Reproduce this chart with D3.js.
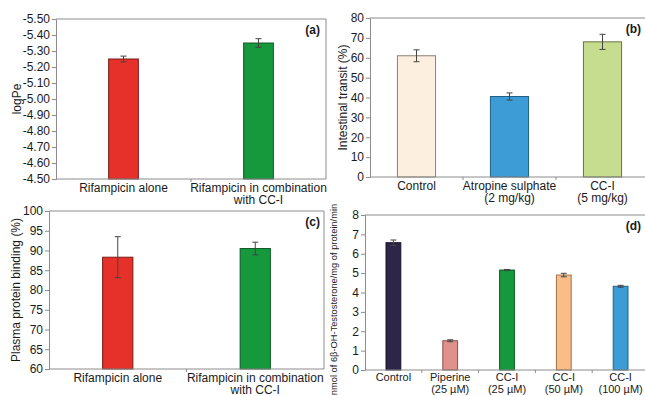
<!DOCTYPE html>
<html><head><meta charset="utf-8">
<script src="https://cdn.jsdelivr.net/npm/d3@7"></script>
<style>
body{margin:0;background:#fff;}
text{font-family:"Liberation Sans",Arial,sans-serif;fill:#1a1a1a;}
</style></head><body>
<svg id="chart" width="645" height="396"></svg>
<script>
// Panel (a) – permeability
const aCategories = ["Rifampicin alone", "Rifampicin in combination\nwith CC-I"];
const aValues = [-5.25, -5.35];
const aErrors = [0.018, 0.027];
const aTicks = [-5.5, -5.4, -5.3, -5.2, -5.1, -5.0, -4.9, -4.8, -4.7, -4.6, -4.5];

// Panel (b) – intestinal transit
const bCategories = ["Control", "Atropine sulphate\n(2 mg/kg)", "CC-I\n(5 mg/kg)"];
const bValues = [61.0, 40.5, 68.0];
const bErrors = [3.0, 1.8, 3.8];
const bTicks = [0, 10, 20, 30, 40, 50, 60, 70, 80];

// Panel (c) – plasma protein binding
const cCategories = ["Rifampicin alone", "Rifampicin in combination\nwith CC-I"];
const cValues = [88.3, 90.5];
const cErrors = [5.2, 1.6];
const cTicks = [60, 65, 70, 75, 80, 85, 90, 95, 100];

// Panel (d) – CYP3A4 activity
const dCategories = ["Control", "Piperine\n(25 µM)", "CC-I\n(25 µM)", "CC-I\n(50 µM)", "CC-I\n(100 µM)"];
const dValues = [6.57, 1.51, 5.16, 4.90, 4.32];
const dErrors = [0.14, 0.05, 0.03, 0.09, 0.05];
const dTicks = [0, 1, 2, 3, 4, 5, 6, 7, 8];

const svg = d3.select("#chart");
const frameColor = "#8c8c8c";

function panel(o) {
  const g = svg.append("g");
  const x = d3.scaleBand().domain(o.categories).range([o.left, o.right]).paddingInner(o.pad).paddingOuter(o.pad / 2);
  const y = d3.scaleLinear().domain(o.domain).range([o.bottom, o.top]);

  // frame
  g.append("line").attr("x1", o.left).attr("x2", o.right).attr("y1", o.top).attr("y2", o.top).attr("stroke", frameColor);
  if (o.rightBorder) g.append("line").attr("x1", o.right).attr("x2", o.right).attr("y1", o.top).attr("y2", o.bottom).attr("stroke", frameColor);

  // bars
  const base = o.domain[0];
  g.selectAll("rect.bar").data(o.values).join("rect")
    .attr("x", (d, i) => x(o.categories[i]))
    .attr("width", x.bandwidth())
    .attr("y", d => Math.min(y(d), y(base)))
    .attr("height", d => Math.abs(y(base) - y(d)))
    .attr("fill", (d, i) => o.colors[i])
    .attr("stroke", (d, i) => o.strokes[i])
    .attr("stroke-width", 1);

  // error bars
  const cap = 3;
  o.values.forEach((v, i) => {
    const cx = x(o.categories[i]) + x.bandwidth() / 2;
    const e = o.errors[i];
    g.append("line").attr("x1", cx).attr("x2", cx).attr("y1", y(v - e)).attr("y2", y(v + e)).attr("stroke", "#444").attr("stroke-width", 1);
    [v - e, v + e].forEach(t => g.append("line").attr("x1", cx - cap).attr("x2", cx + cap).attr("y1", y(t)).attr("y2", y(t)).attr("stroke", "#444").attr("stroke-width", 1));
  });

  // y axis
  const ya = g.append("g").attr("transform", `translate(${o.left},0)`)
    .call(d3.axisLeft(y).tickValues(o.ticks).tickFormat(o.fmt).tickSize(4).tickPadding(2));
  ya.select(".domain").attr("stroke", frameColor);
  ya.selectAll(".tick line").attr("stroke", frameColor);
  ya.selectAll("text").style("font-size", "12px").attr("fill", "#1a1a1a");

  // x axis
  g.append("line").attr("x1", o.left).attr("x2", o.right).attr("y1", o.bottom).attr("y2", o.bottom).attr("stroke", frameColor);
  const step = x.step();
  const ly = o.labelY || 12.5, ldy = o.labelDy || 12.5, lfs = o.labelSize || "12px";
  o.categories.forEach((c, i) => {
    if (i > 0) {
      const bx = x(c) - step * o.pad / 2;
      g.append("line").attr("x1", bx).attr("x2", bx).attr("y1", o.bottom).attr("y2", o.bottom + 3).attr("stroke", frameColor);
    }
    const lines = c.split("\n");
    const cx = x(c) + x.bandwidth() / 2;
    const t = g.append("text").attr("text-anchor", "middle").style("font-size", lfs)
      .attr("x", cx).attr("y", o.bottom + ly);
    lines.forEach((l, k) => t.append("tspan").attr("x", cx).attr("dy", k === 0 ? 0 : ldy).text(l));
  });

  // y title
  g.append("text").attr("text-anchor", "middle")
    .attr("transform", `translate(${o.titleX},${(o.top + o.bottom) / 2 + (o.titleDy || 0)}) rotate(-90)`)
    .style("font-size", o.titleSize || "12px").text(o.title);

  // panel letter
  g.append("text").attr("text-anchor", "end").attr("x", o.letterX).attr("y", o.top + 15)
    .style("font-size", "12px").style("font-weight", "bold").text(o.letter);
}

panel({categories: aCategories, values: aValues, errors: aErrors, ticks: aTicks,
  domain: [-4.5, -5.5], left: 56, right: 326, top: 19, bottom: 179, pad: 0.78,
  fmt: d => d.toFixed(2), rightBorder: true,
  colors: ["#e6312b", "#15993c"], strokes: ["#7a1a16", "#0e5a24"],
  title: "logPe", titleX: 21, letter: "(a)", letterX: 320});

panel({categories: bCategories, values: bValues, errors: bErrors, ticks: bTicks,
  domain: [0, 80], left: 370, right: 649, top: 18, bottom: 177, pad: 0.59,
  fmt: d => d, rightBorder: false,
  colors: ["#fdefe0", "#3d9bd6", "#c6dd8f"], strokes: ["#8d7f72", "#1f5f86", "#67753c"],
  title: "Intestinal transit (%)", titleX: 347, letter: "(b)", letterX: 641});

panel({categories: cCategories, values: cValues, errors: cErrors, ticks: cTicks,
  domain: [60, 100], left: 49, right: 324, top: 211, bottom: 369, pad: 0.78,
  fmt: d => d, rightBorder: true,
  colors: ["#e6312b", "#15993c"], strokes: ["#7a1a16", "#0e5a24"],
  title: "Plasma protein binding (%)", titleX: 20, letter: "(c)", letterX: 320});

panel({categories: dCategories, values: dValues, errors: dErrors, ticks: dTicks,
  domain: [0, 8], left: 365, right: 649, top: 215, bottom: 370, pad: 0.74,
  fmt: d => d, rightBorder: false, labelY: 10.5, labelDy: 12.7, labelSize: "11px",
  colors: ["#2e2647", "#e0918b", "#15993c", "#fbbd88", "#3d9bd6"], strokes: ["#15112a", "#8a4f4a", "#0e5a24", "#a0714a", "#1f5f86"],
  title: "nmol of 6β-OH-Testosterone/mg of protein/min", titleX: 337, titleSize: "9.3px", titleDy: 7, letter: "(d)", letterX: 641});
</script>
</body></html>
